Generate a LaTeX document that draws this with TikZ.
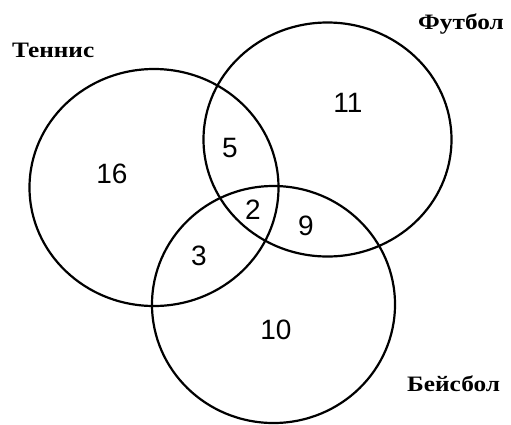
\documentclass[tikz,border=0pt]{standalone}
\usepackage{fontspec}
\usepackage{graphicx}
\setmainfont{Liberation Serif}
\newfontfamily\numfont{Liberation Sans}
\usetikzlibrary{shapes.geometric}
\begin{document}
\begin{tikzpicture}[x=1pt,y=-1pt,
  setc/.style={draw=black, line width=2.2pt, ellipse, inner sep=0pt},
  num/.style={font=\numfont\fontsize{28}{28}\selectfont, inner sep=0pt},
  lab/.style={font=\fontsize{22}{22}\selectfont\bfseries, inner sep=0pt, anchor=base west}]
\useasboundingbox (0,0) rectangle (511,424);
\fill[white] (0,0) rectangle (511,424);
\node[setc, minimum width=249pt, minimum height=237pt] (tennis) at (154,187.5) {};
\node[setc, minimum width=248pt, minimum height=234pt] (football) at (327.5,139.5) {};
\node[setc, minimum width=243pt, minimum height=237pt] (baseball) at (273.5,304.5) {};
\node[lab] (lt) at (12,57) {\scalebox{1.15}[1]{Теннис}};
\node[lab] (lf) at (418,29) {\scalebox{1.15}[1]{Футбол}};
\node[lab] (lb) at (407,391) {\scalebox{1.15}[1]{Бейсбол}};
\node[num] (n16) at (112,174) {16};
\node[num] (n5) at (230,148) {5};
\node[num] (n11) at (348,103) {11};
\node[num] (n2) at (253,210) {2};
\node[num] (n9) at (306,226) {9};
\node[num] (n3) at (199,256) {3};
\node[num] (n10) at (276,330) {10};
\end{tikzpicture}
\end{document}
